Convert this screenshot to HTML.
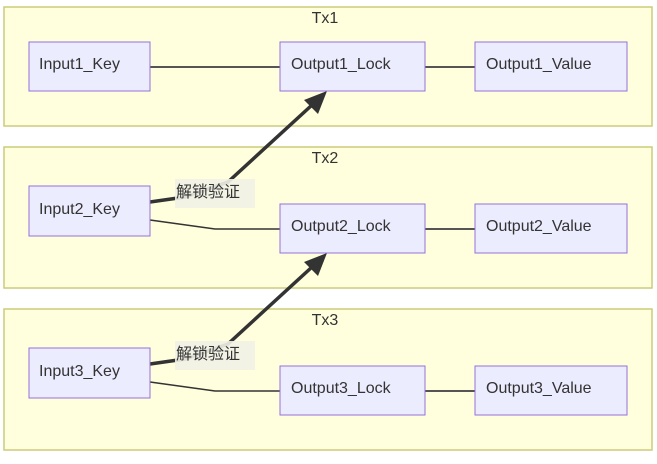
<!DOCTYPE html>
<html><head><meta charset="utf-8"><style>
html,body{margin:0;padding:0;background:#fff;}
svg text{font-family:"Liberation Sans","Noto Sans CJK SC",sans-serif;font-size:16px;fill:#333;}
</style></head><body>
<svg width="657" height="459" viewBox="0 0 657 459" xmlns="http://www.w3.org/2000/svg">
<g fill="#ffffde" stroke="#cccc7a" stroke-width="1.5">
<rect x="4" y="7" width="648" height="119"/>
<rect x="4" y="147" width="648" height="141"/>
<rect x="4" y="309" width="648" height="141"/>
</g>
<text x="325" y="23" text-anchor="middle">Tx1</text>
<text x="325" y="163" text-anchor="middle">Tx2</text>
<text x="325" y="325" text-anchor="middle">Tx3</text>
<g stroke="#555" stroke-width="2" fill="none">
<line x1="150" y1="67" x2="280" y2="67"/>
<line x1="425" y1="67" x2="475" y2="67"/>
<line x1="425" y1="229" x2="475" y2="229"/>
<line x1="425" y1="391" x2="475" y2="391"/>
<polyline points="150,220 215,229 280,229" stroke-width="1.6" stroke="#333"/>
<polyline points="150,382 215,391 280,391" stroke-width="1.6" stroke="#333"/>
</g>
<g stroke="#333" stroke-width="3.5" fill="none">
<polyline points="150,202 185,197 228,182 312,105"/>
<polyline points="150,364 185,359 228,344 312,267"/>
</g>
<polygon points="327,91 304,100 318,114" fill="#333"/>
<polygon points="327,253 304,262 318,276" fill="#333"/>
<rect x="175" y="179" width="80" height="29" fill="#f1f1e6" opacity="0.9"/>
<rect x="175" y="341" width="80" height="29" fill="#f1f1e6" opacity="0.9"/>
<text x="176" y="197">解锁验证</text>
<text x="176" y="359">解锁验证</text>
<g fill="#ececff" stroke="#9370db" stroke-width="1">
<rect x="29" y="42" width="121" height="49"/>
<rect x="280" y="42" width="145" height="49"/>
<rect x="475" y="42" width="152" height="49"/>
<rect x="29" y="186" width="121" height="50"/>
<rect x="280" y="204" width="145" height="49"/>
<rect x="475" y="204" width="152" height="49"/>
<rect x="29" y="348" width="121" height="50"/>
<rect x="280" y="366" width="145" height="49"/>
<rect x="475" y="366" width="152" height="49"/>
</g>
<text x="39" y="69">Input1_Key</text>
<text x="291" y="69">Output1_Lock</text>
<text x="486" y="69">Output1_Value</text>
<text x="39" y="214">Input2_Key</text>
<text x="291" y="231">Output2_Lock</text>
<text x="486" y="231">Output2_Value</text>
<text x="39" y="376">Input3_Key</text>
<text x="291" y="393">Output3_Lock</text>
<text x="486" y="393">Output3_Value</text>
</svg>
</body></html>
